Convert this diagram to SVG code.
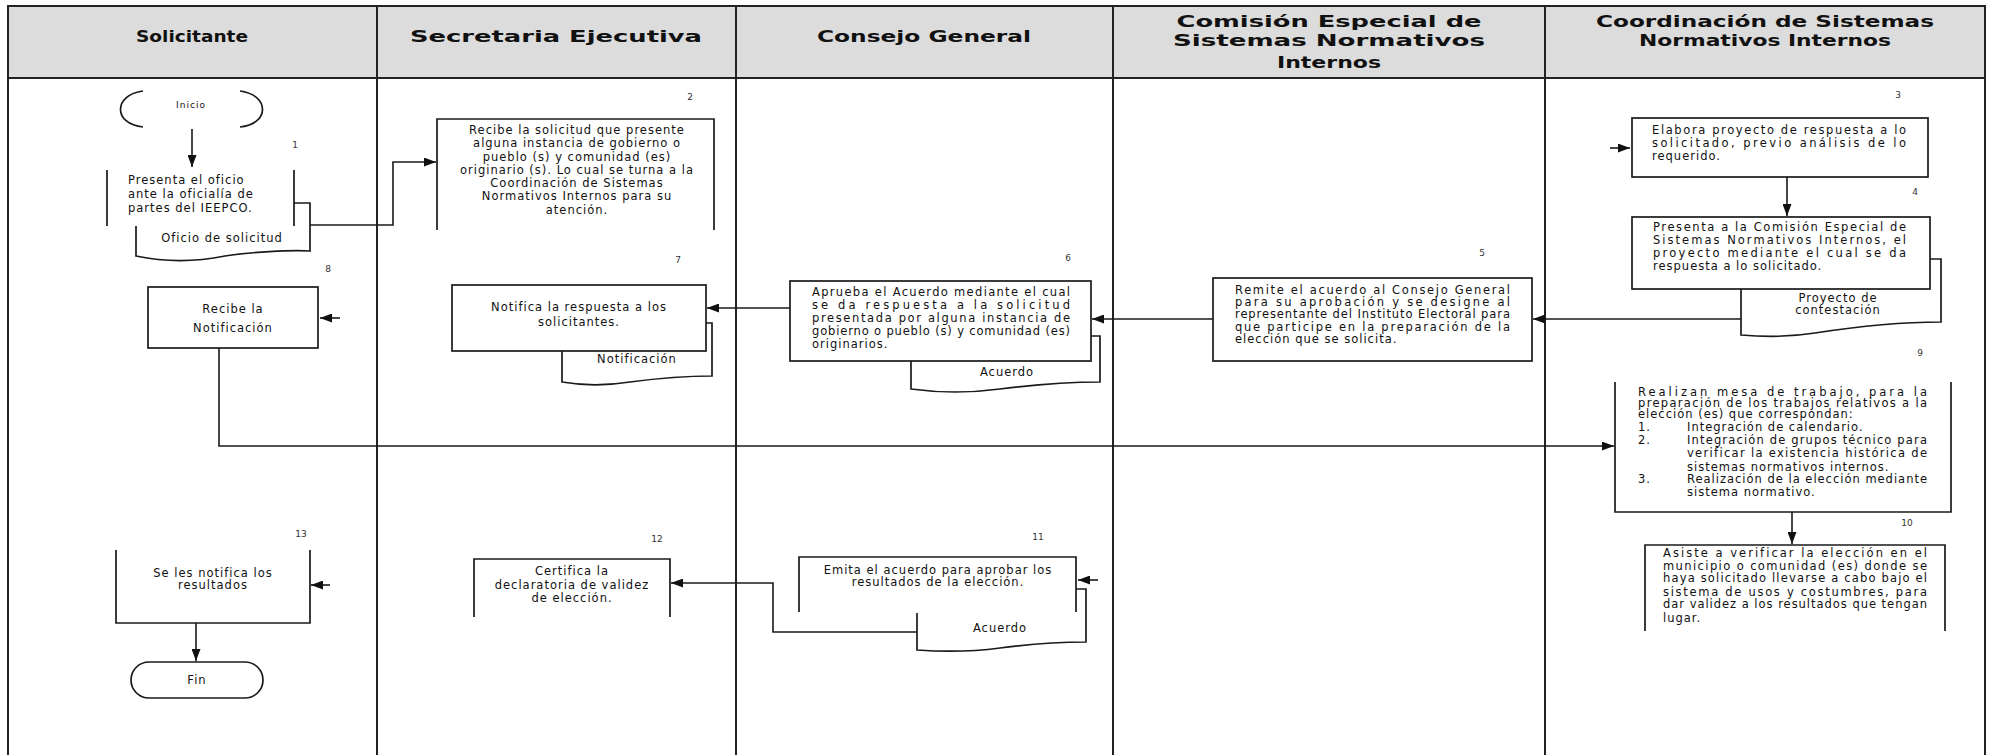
<svg xmlns="http://www.w3.org/2000/svg" width="1990" height="755" viewBox="0 0 1990 755">
<style>
.bg{fill:#ffffff}
.hdr{fill:#dcdcdc;stroke:none}
.grid{fill:none;stroke:#222;stroke-width:2}
.box{fill:none;stroke:#1a1a1a;stroke-width:1.7}
.con{fill:none;stroke:#1a1a1a;stroke-width:1.6}
.ht{font-family:"DejaVu Sans",sans-serif;font-weight:bold;font-size:16px;fill:#111;text-anchor:middle}
.t{font-family:"DejaVu Sans",sans-serif;font-size:11.5px;letter-spacing:1px;fill:#111}
.c{text-anchor:middle}
.n{font-family:"DejaVu Sans",sans-serif;font-size:9px;fill:#333;text-anchor:middle}
.s{font-family:"DejaVu Sans",sans-serif;font-size:9px;letter-spacing:1px;fill:#111;text-anchor:middle}
</style>
<defs>
<marker id="ah" markerWidth="12" markerHeight="9" refX="12" refY="4.5" orient="auto" markerUnits="userSpaceOnUse"><path d="M0,0 L12,4.5 L0,9 z" fill="#111"/></marker>
</defs>
<rect class="bg" x="0" y="0" width="1990" height="755"/>
<g id="lanes">
<rect class="hdr" x="8" y="6" width="1977" height="72"/>
<path class="grid" d="M8,755 V6 H1985 V755 M8,78 H1985 M377,6 V755 M736,6 V755 M1113,6 V755 M1545,6 V755"/>
<text class="ht" x="192" y="42" textLength="112" lengthAdjust="spacingAndGlyphs">Solicitante</text>
<text class="ht" x="556" y="42" textLength="292" lengthAdjust="spacingAndGlyphs">Secretaria Ejecutiva</text>
<text class="ht" x="924" y="42" textLength="214" lengthAdjust="spacingAndGlyphs">Consejo General</text>
<text class="ht" x="1329" y="27" textLength="305" lengthAdjust="spacingAndGlyphs">Comisión Especial de</text>
<text class="ht" x="1329" y="46" textLength="312" lengthAdjust="spacingAndGlyphs">Sistemas Normativos</text>
<text class="ht" x="1329" y="68" textLength="104" lengthAdjust="spacingAndGlyphs">Internos</text>
<text class="ht" x="1765" y="27" textLength="338" lengthAdjust="spacingAndGlyphs">Coordinación de Sistemas</text>
<text class="ht" x="1765" y="46" textLength="252" lengthAdjust="spacingAndGlyphs">Normativos Internos</text>
</g>
<g id="connectors">
<path class="con" d="M192,129 V167" marker-end="url(#ah)"/>
<path class="con" d="M310,225 H393 V162 H436" marker-end="url(#ah)"/>
<path class="con" d="M1610,148 H1630" marker-end="url(#ah)"/>
<path class="con" d="M1787,177 V216" marker-end="url(#ah)"/>
<path class="con" d="M1741,319 H1533" marker-end="url(#ah)"/>
<path class="con" d="M1213,319 H1092" marker-end="url(#ah)"/>
<path class="con" d="M790,308 H707" marker-end="url(#ah)"/>
<path class="con" d="M340,318 H320" marker-end="url(#ah)"/>
<path class="con" d="M219,348 V446 H1614" marker-end="url(#ah)"/>
<path class="con" d="M1792,512 V544" marker-end="url(#ah)"/>
<path class="con" d="M1098,580 H1078" marker-end="url(#ah)"/>
<path class="con" d="M917,632 H773 V583 H671" marker-end="url(#ah)"/>
<path class="con" d="M330,585 H311" marker-end="url(#ah)"/>
<path class="con" d="M196,623 V661" marker-end="url(#ah)"/>
</g>
<g id="inicio">
<path class="box" d="M143,91 C113,95 113,124 143,127 M240,91 C270,95 270,124 240,127"/>
<text class="s" x="191" y="108">Inicio</text>
</g>
<g id="n1">
<path class="box" d="M294,203 H310 V251 C290,250 250,252 225,256 C195,262 165,262 136,256 V226"/>
<path class="box" d="M107,170 V226 M294,170 V226"/>
<text class="n" x="295" y="148">1</text>
<text class="t" x="128" y="184">Presenta el oficio</text>
<text class="t" x="128" y="198">ante la oficialía de</text>
<text class="t" x="128" y="212">partes del IEEPCO.</text>
<text class="t c" x="222" y="242">Oficio de solicitud</text>
</g>
<g id="n2">
<path class="box" d="M437,230 V119 H714 V230"/>
<text class="n" x="690" y="100">2</text>
<text class="t c" x="577" y="134">Recibe la solicitud que presente</text>
<text class="t c" x="577" y="147">alguna instancia de gobierno o</text>
<text class="t c" x="577" y="161">pueblo (s) y comunidad (es)</text>
<text class="t c" x="577" y="174">originario (s). Lo cual se turna a la</text>
<text class="t c" x="577" y="187">Coordinación de Sistemas</text>
<text class="t c" x="577" y="200">Normativos Internos para su</text>
<text class="t c" x="577" y="214">atención.</text>
</g>
<g id="n3">
<rect class="box" x="1632" y="118" width="296" height="59"/>
<text class="n" x="1898" y="98">3</text>
<text class="t" x="1652" y="134" textLength="255" lengthAdjust="spacing">Elabora proyecto de respuesta a lo</text>
<text class="t" x="1652" y="147" textLength="255" lengthAdjust="spacing">solicitado, previo análisis de lo</text>
<text class="t" x="1652" y="160">requerido.</text>
</g>
<g id="n4">
<path class="box" d="M1930,259 H1941 V322 C1900,322 1860,326 1815,333 C1790,337 1765,337 1741,335 V289"/>
<rect class="box" x="1632" y="217" width="298" height="72"/>
<text class="n" x="1915" y="195">4</text>
<text class="t" x="1653" y="231" textLength="254" lengthAdjust="spacing">Presenta a la Comisión Especial de</text>
<text class="t" x="1653" y="244" textLength="254" lengthAdjust="spacing">Sistemas Normativos Internos, el</text>
<text class="t" x="1653" y="257" textLength="254" lengthAdjust="spacing">proyecto mediante el cual se da</text>
<text class="t" x="1653" y="270">respuesta a lo solicitado.</text>
<text class="t c" x="1838" y="302">Proyecto de</text>
<text class="t c" x="1838" y="314">contestación</text>
</g>
<g id="n5">
<rect class="box" x="1213" y="278" width="319" height="83"/>
<text class="n" x="1482" y="256">5</text>
<text class="t" x="1235" y="294" textLength="276" lengthAdjust="spacing">Remite el acuerdo al Consejo General</text>
<text class="t" x="1235" y="306" textLength="276" lengthAdjust="spacing">para su aprobación y se designe al</text>
<text class="t" x="1235" y="318" textLength="276" lengthAdjust="spacing">representante del Instituto Electoral para</text>
<text class="t" x="1235" y="331" textLength="276" lengthAdjust="spacing">que participe en la preparación de la</text>
<text class="t" x="1235" y="343">elección que se solicita.</text>
</g>
<g id="n6">
<path class="box" d="M1091,336 H1100 V382 C1070,382 1040,384 1000,389 C970,393 940,393 911,389 V361"/>
<rect class="box" x="790" y="281" width="301" height="80"/>
<text class="n" x="1068" y="261">6</text>
<text class="t" x="812" y="296" textLength="259" lengthAdjust="spacing">Aprueba el Acuerdo mediante el cual</text>
<text class="t" x="812" y="309" textLength="259" lengthAdjust="spacing">se da respuesta a la solicitud</text>
<text class="t" x="812" y="322" textLength="259" lengthAdjust="spacing">presentada por alguna instancia de</text>
<text class="t" x="812" y="335" textLength="259" lengthAdjust="spacing">gobierno o pueblo (s) y comunidad (es)</text>
<text class="t" x="812" y="348">originarios.</text>
<text class="t c" x="1007" y="376">Acuerdo</text>
</g>
<g id="n7">
<path class="box" d="M706,323 H712 V376 C690,376 660,378 630,382 C605,386 585,386 562,382 V351"/>
<rect class="box" x="452" y="285" width="254" height="66"/>
<text class="n" x="678" y="263">7</text>
<text class="t c" x="579" y="311">Notifica la respuesta a los</text>
<text class="t c" x="579" y="326">solicitantes.</text>
<text class="t c" x="637" y="363">Notificación</text>
</g>
<g id="n8">
<rect class="box" x="148" y="287" width="170" height="61"/>
<text class="n" x="328" y="272">8</text>
<text class="t c" x="233" y="313">Recibe la</text>
<text class="t c" x="233" y="332">Notificación</text>
</g>
<g id="n9">
<path class="box" d="M1615,382 V512 H1951 V382"/>
<text class="n" x="1920" y="356">9</text>
<text class="t" x="1638" y="396" textLength="290" lengthAdjust="spacing">Realizan mesa de trabajo, para la</text>
<text class="t" x="1638" y="407" textLength="290" lengthAdjust="spacing">preparación de los trabajos relativos a la</text>
<text class="t" x="1638" y="418">elección (es) que correspondan:</text>
<text class="t" x="1638" y="431">1.</text>
<text class="t" x="1687" y="431">Integración de calendario.</text>
<text class="t" x="1638" y="444">2.</text>
<text class="t" x="1687" y="444" textLength="241" lengthAdjust="spacing">Integración de grupos técnico para</text>
<text class="t" x="1687" y="457" textLength="241" lengthAdjust="spacing">verificar la existencia histórica de</text>
<text class="t" x="1687" y="471">sistemas normativos internos.</text>
<text class="t" x="1638" y="483">3.</text>
<text class="t" x="1687" y="483" textLength="241" lengthAdjust="spacing">Realización de la elección mediante</text>
<text class="t" x="1687" y="496">sistema normativo.</text>
</g>
<g id="n10">
<path class="box" d="M1645,631 V545 H1945 V631"/>
<text class="n" x="1907" y="526">10</text>
<text class="t" x="1663" y="557" textLength="265" lengthAdjust="spacing">Asiste a verificar la elección en el</text>
<text class="t" x="1663" y="570" textLength="265" lengthAdjust="spacing">municipio o comunidad (es) donde se</text>
<text class="t" x="1663" y="582" textLength="265" lengthAdjust="spacing">haya solicitado llevarse a cabo bajo el</text>
<text class="t" x="1663" y="596" textLength="265" lengthAdjust="spacing">sistema de usos y costumbres, para</text>
<text class="t" x="1663" y="608" textLength="265" lengthAdjust="spacing">dar validez a los resultados que tengan</text>
<text class="t" x="1663" y="622">lugar.</text>
</g>
<g id="n11">
<path class="box" d="M1076,589 H1086 V642 C1060,642 1030,644 1000,648 C970,652 945,652 917,650 V613"/>
<path class="box" d="M799,612 V557 H1076 V612"/>
<text class="n" x="1038" y="540">11</text>
<text class="t c" x="938" y="574">Emita el acuerdo para aprobar los</text>
<text class="t c" x="938" y="586">resultados de la elección.</text>
<text class="t c" x="1000" y="632">Acuerdo</text>
</g>
<g id="n12">
<path class="box" d="M474,617 V559 H670 V617"/>
<text class="n" x="657" y="542">12</text>
<text class="t c" x="572" y="575">Certifica la</text>
<text class="t c" x="572" y="589">declaratoria de validez</text>
<text class="t c" x="572" y="602">de elección.</text>
</g>
<g id="n13">
<path class="box" d="M116,550 V623 H310 V550"/>
<text class="n" x="301" y="537">13</text>
<text class="t c" x="213" y="577">Se les notifica los</text>
<text class="t c" x="213" y="589">resultados</text>
</g>
<g id="fin">
<rect class="box" x="131" y="662" width="132" height="36" rx="18" ry="18"/>
<text class="t c" x="197" y="684">Fin</text>
</g>
</svg>
